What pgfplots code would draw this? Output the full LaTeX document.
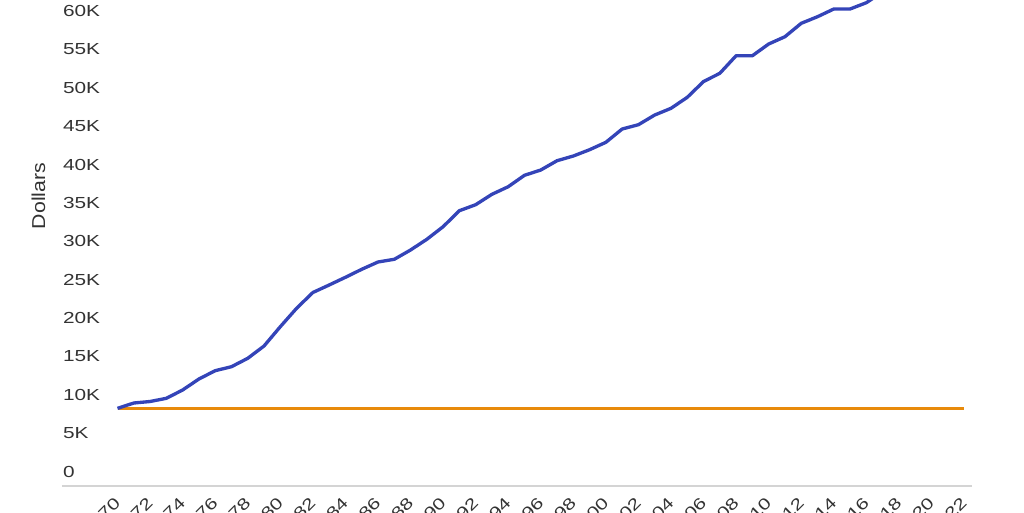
\documentclass[border=0pt]{standalone}
\usepackage{fontspec}
\setmainfont{Liberation Sans}
\newfontfamily\widefont{Liberation Sans}[FakeStretch=1.3]
\newfontfamily\labelfont{Liberation Sans}[FakeStretch=1.14]
\usepackage{pgfplots}
\pgfplotsset{compat=1.18}

\definecolor{incblue}{HTML}{3444B8}
\definecolor{reforange}{HTML}{E88A0A}
\definecolor{basegray}{HTML}{D4D4D4}
\definecolor{txt}{HTML}{333333}
\newcommand\wf{\widefont\fontsize{12}{14}\selectfont}
\newcommand\lf{\labelfont\fontsize{14}{16}\selectfont}

\begin{document}
\begin{tikzpicture}
\begin{axis}[
    at={(0,0)}, anchor=south west,
    scale only axis,
    width=682.5pt, height=364.5pt,
    xmin=1966.59, xmax=2022.49,
    ymin=-1889, ymax=61433,
    axis line style={draw=none},
    major tick length=0pt,
    clip mode=individual,
    xtick={1970,1972,...,2022},
    ytick={0,5000,...,60000},
    yticklabels={0,5K,10K,15K,20K,25K,30K,35K,40K,45K,50K,55K,60K},
    /pgf/number format/assume math mode=true,
    x tick label style={/pgf/number format/1000 sep={}},
    xticklabel style={font=\wf, text=txt, yshift=-10.5pt, rotate=45, anchor=east, inner sep=0pt},
    yticklabel style={font=\wf, text=txt, anchor=west, inner sep=0pt, xshift=0.6pt},
    ylabel={Dollars},
    ylabel style={font=\lf, text=txt, at={(axis description cs:-0.0258,0.5967)}, anchor=center},
]
\draw[basegray, line width=1.1pt] (axis description cs:0,0) -- (axis description cs:1,0);

% flat reference at the 1970 level
\addplot[color=reforange, line width=2.4pt] coordinates {
    (1970,8230) (2022,8230)
};

\addplot[color=incblue, line width=2.5pt, line join=round] coordinates {
    (1970,8230) (1971,8925) (1972,9121) (1973,9537) (1974,10619)
    (1975,12052) (1976,13134) (1977,13655) (1978,14749) (1979,16352)
    (1980,18866) (1981,21264) (1982,23322) (1983,24300) (1984,25303)
    (1985,26345) (1986,27296) (1987,27648) (1988,28860) (1989,30254)
    (1990,31896) (1991,33980) (1992,34762) (1993,36117) (1994,37107)
    (1995,38593) (1996,39283) (1997,40495) (1998,41107) (1999,41928)
    (2000,42893) (2001,44625) (2002,45186) (2003,46450) (2004,47322)
    (2005,48756) (2006,50814) (2007,51883) (2008,54176) (2009,54176)
    (2010,55700) (2011,56651) (2012,58397) (2013,59257) (2014,60261)
    (2015,60261) (2016,61081) (2017,62500) (2018,63800) (2019,68000)
    (2020,67500) (2021,70800) (2022,74600)
};
\end{axis}
\pgfresetboundingbox
\path[use as bounding box] (-46.5pt,-19.5pt) rectangle (721.5pt,364.5pt);
\end{tikzpicture}
\end{document}
